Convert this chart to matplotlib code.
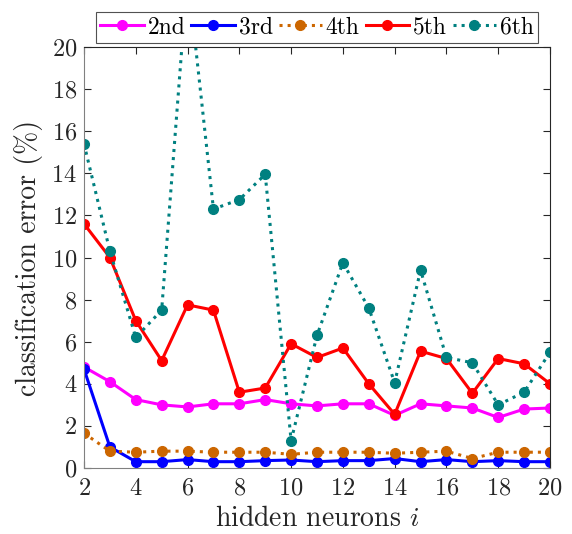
import matplotlib
matplotlib.use('Agg')
import matplotlib.pyplot as plt

plt.rcParams['font.family'] = 'serif'
plt.rcParams['font.serif'] = ['cmr10']
plt.rcParams['mathtext.fontset'] = 'cm'
plt.rcParams['axes.formatter.use_mathtext'] = True

neurons = list(range(2, 21))
err_2nd = [4.8, 4.1, 3.25, 3.0, 2.9, 3.05, 3.05, 3.25, 3.05, 2.95, 3.05, 3.05, 2.5, 3.05, 2.95, 2.85, 2.4, 2.8, 2.85]
err_3rd = [4.7, 1.0, 0.3, 0.3, 0.4, 0.3, 0.3, 0.35, 0.38, 0.3, 0.35, 0.35, 0.45, 0.3, 0.4, 0.3, 0.35, 0.3, 0.3]
err_4th = [1.65, 0.8, 0.75, 0.8, 0.8, 0.75, 0.75, 0.75, 0.65, 0.75, 0.75, 0.75, 0.7, 0.75, 0.8, 0.45, 0.75, 0.75, 0.75]
err_5th = [11.6, 10.0, 7.0, 5.1, 7.75, 7.5, 3.6, 3.8, 5.9, 5.25, 5.7, 4.0, 2.55, 5.55, 5.2, 3.55, 5.2, 4.95, 4.0]
err_6th = [15.4, 10.3, 6.2, 7.5, 23.5, 12.3, 12.75, 13.95, 1.3, 6.3, 9.75, 7.6, 4.05, 9.4, 5.25, 5.0, 3.0, 3.6, 5.5]

series = [
    ('2nd', err_2nd, '#ff00ff', '-'),
    ('3rd', err_3rd, '#0000ff', '-'),
    ('4th', err_4th, '#cc6600', ':'),
    ('5th', err_5th, '#ff0000', '-'),
    ('6th', err_6th, '#008080', ':'),
]


def main():
    fig = plt.figure(figsize=(5.72, 5.34), dpi=100)
    ax = fig.add_axes([84 / 572, 1 - 468 / 534, 466 / 572, 421 / 534])
    for name, vals, col, ls in series:
        ax.plot(neurons, vals, color=col, linestyle=ls, linewidth=2.2,
                marker='o', markersize=7, label=name)
    ax.set_xlim(2, 20)
    ax.set_ylim(0, 20)
    ax.set_xticks(range(2, 21, 2))
    ax.set_yticks(range(0, 21, 2))
    ax.tick_params(direction='in', top=True, right=True, labelsize=17.5,
                   length=5, color='#262626', labelcolor='#262626')
    ax.tick_params(axis='x', pad=7)
    ax.tick_params(axis='y', pad=5)
    for s in ax.spines.values():
        s.set_color('#262626')
    ax.spines['left'].set_color('#808080')
    ax.spines['bottom'].set_color('#808080')
    ax.set_xlabel('hidden neurons $i$', fontsize=20, color='#262626', labelpad=4)
    ax.set_ylabel('classification error (%)', fontsize=20, color='#262626', labelpad=6)
    leg = ax.legend(loc='lower center', bbox_to_anchor=(0.5, 1.0), ncol=5,
                    fontsize=17, frameon=True, fancybox=False, borderpad=0.2,
                    handlelength=1.85, handletextpad=0.15, columnspacing=0.25,
                    borderaxespad=0.15)
    leg.get_frame().set_edgecolor('#262626')
    leg.get_frame().set_linewidth(0.8)
    fig.savefig('out.png', dpi=100)


if __name__ == '__main__':
    main()
